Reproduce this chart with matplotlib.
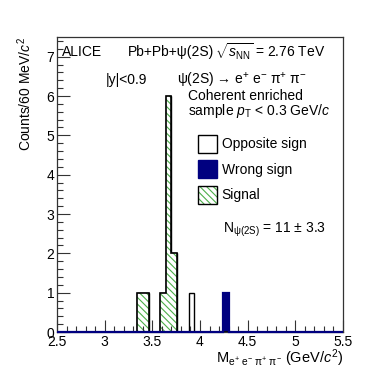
import numpy as np
import matplotlib
matplotlib.use("Agg")
from matplotlib import pyplot as plt
from matplotlib.patches import Patch

plt.rcParams["font.family"] = ["Liberation Sans", "DejaVu Sans"]
plt.rcParams["mathtext.fontset"] = "custom"
plt.rcParams["mathtext.rm"] = "Liberation Sans"
plt.rcParams["mathtext.it"] = "Liberation Sans:italic"
plt.rcParams["mathtext.bf"] = "Liberation Sans:bold"
plt.rcParams["hatch.linewidth"] = 0.8

# 60 MeV bins, lower edges (GeV/c^2) and counts
os_bin_lo = [3.34, 3.40, 3.58, 3.64, 3.70, 3.88]
os_counts = [1, 1, 1, 6, 2, 1]
ws_bin_lo = [4.24]
ws_counts = [1]
sig_bin_lo = [3.34, 3.40, 3.58, 3.64, 3.70]
sig_counts = [1, 1, 1, 6, 2]

mass_min, mass_max, bin_width = 2.5, 5.5, 0.06
edges = np.linspace(mass_min, mass_max, int(round((mass_max - mass_min) / bin_width)) + 1)


def centers(lo):
    return np.asarray(lo) + bin_width / 2


navy = "#000080"
green = "#4daf4a"
hatch = "\\\\\\\\\\"

fig = plt.figure(figsize=(3.82, 3.70), dpi=100)
ax = fig.add_axes([57 / 382, 1 - 332 / 370, 286 / 382, 295 / 370])

# opposite sign: white with black outline
ax.hist(centers(os_bin_lo), bins=edges, weights=os_counts, histtype="stepfilled",
        facecolor="white", edgecolor="black", linewidth=1.0)
# signal: green hatch with black outline
ax.hist(centers(sig_bin_lo), bins=edges, weights=sig_counts, histtype="stepfilled",
        facecolor="white", edgecolor=green, hatch=hatch, linewidth=0)
ax.hist(centers(sig_bin_lo), bins=edges, weights=sig_counts, histtype="step",
        color="black", linewidth=1.2)
# wrong sign: navy filled, its outline runs along zero
ax.hist(centers(ws_bin_lo), bins=edges, weights=ws_counts, histtype="stepfilled",
        facecolor=navy, edgecolor=navy, linewidth=0)
ax.hist(centers(ws_bin_lo), bins=edges, weights=ws_counts, histtype="step",
        color=navy, linewidth=1.6, clip_on=False, zorder=3)

ax.set_xlim(mass_min, mass_max)
ax.set_ylim(0, 7.5)
ax.set_xticks(np.arange(2.5, 5.51, 0.5))
ax.set_xticklabels(["2.5", "3", "3.5", "4", "4.5", "5", "5.5"])
ax.set_xticks(np.arange(2.5, 5.51, 0.1), minor=True)
ax.set_yticks(range(0, 8))
ax.set_yticks(np.arange(0, 7.5, 0.2), minor=True)
ax.tick_params(which="both", direction="in", labelsize=10, color="#333333")
ax.tick_params(which="major", length=9, width=0.8, pad=2)
ax.tick_params(which="minor", length=4.5, width=0.8)
for s in ax.spines.values():
    s.set_color("#333333")
    s.set_linewidth(0.9)

ax.set_xlabel(r"M$_{\rm e^{+}\ e^{-}\ \pi^{+}\ \pi^{-}}$ (GeV/$c^{2}$)", fontsize=10.5,
              loc="right", labelpad=-1)
ax.set_ylabel(r"Counts/60 MeV/$c^{2}$", fontsize=10, loc="top", labelpad=9)

fig.text(62 / 382, 1 - 52 / 370, "ALICE", fontsize=10, va="center")
fig.text(128 / 382, 1 - 52 / 370, "Pb+Pb+ψ(2S)", fontsize=10, va="center")
fig.text(215 / 382, 1 - 52 / 370, r"$\sqrt{s_{\rm NN}}$ = 2.76 TeV", fontsize=10, va="center")
fig.text(106 / 382, 1 - 80 / 370, "|y|<0.9", fontsize=10, va="center")
fig.text(177 / 382, 1 - 80 / 370,
         r"ψ(2S) → e$^{+}$ e$^{-}$ π$^{+}$ π$^{-}$", fontsize=10, va="center")
fig.text(188 / 382, 1 - 96 / 370, "Coherent enriched", fontsize=10, va="center")
fig.text(188 / 382, 1 - 111 / 370, r"sample $p_{\rm T}$ < 0.3 GeV/$c$", fontsize=10, va="center")
fig.text(223 / 382, 1 - 230 / 370, r"N$_{\rm ψ(2S)}$ = 11 ± 3.3", fontsize=10, va="center")

handles = [
    Patch(facecolor="white", edgecolor="black", linewidth=1.0),
    Patch(facecolor=navy, edgecolor=navy),
    (Patch(facecolor="white", edgecolor=green, hatch=hatch, linewidth=0),
     Patch(facecolor="none", edgecolor="black", linewidth=1.0)),
]
labels = ["Opposite sign", "Wrong sign", "Signal"]
ax.legend(handles, labels, loc="upper left", bbox_to_anchor=(198 / 382, 1 - 135 / 370),
          bbox_transform=fig.transFigure, frameon=False, fontsize=10,
          handlelength=1.4, handleheight=1.6, labelspacing=0.55, handletextpad=0.3,
          borderpad=0, borderaxespad=0)

fig.savefig("out.png", dpi=100)
